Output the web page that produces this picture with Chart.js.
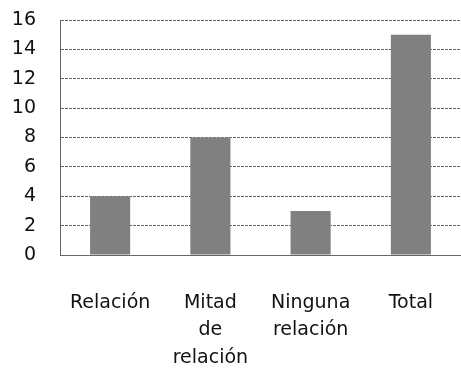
<!DOCTYPE html>
<html>
<head>
<meta charset="utf-8">
<script src="https://cdn.jsdelivr.net/npm/chart.js@4.4.1/dist/chart.umd.min.js"></script>
<style>
  html, body { margin: 0; padding: 0; background: #fff; }
  #wrap { width: 461px; height: 383px; }
</style>
</head>
<body>
<div id="wrap"><canvas id="c" width="461" height="383"></canvas></div>
<script>
const categories = [["Relación"], ["Mitad", "de", "relación"], ["Ninguna", "relación"], ["Total"]];
const values = [4, 8, 3, 15];
const yTicks = [0, 2, 4, 6, 8, 10, 12, 14, 16];

const FONT = "'DejaVu Sans', sans-serif";
const LINE = '#666666';

new Chart(document.getElementById('c'), {
  type: 'bar',
  data: {
    labels: categories,
    datasets: [{
      data: values,
      backgroundColor: '#808080',
      borderWidth: 0,
      barPercentage: 0.4,
      categoryPercentage: 1.0
    }]
  },
  options: {
    responsive: false,
    animation: false,
    devicePixelRatio: 1,
    layout: { padding: { top: 20, right: 0, left: 6, bottom: 0 } },
    plugins: { legend: { display: false }, tooltip: { enabled: false } },
    scales: {
      x: {
        afterFit: (axis) => {
          axis.paddingLeft = 0;
          axis.paddingRight = 0;
          axis.height = 128;
        },
        grid: { display: false, drawTicks: false },
        border: { display: true, color: LINE, width: 1, dash: [3, 1] },
        ticks: {
          color: '#111',
          font: { family: FONT, size: 19, lineHeight: 1.45 },
          padding: 34,
          maxRotation: 0,
          autoSkip: false
        }
      },
      y: {
        min: 0,
        max: 16,
        afterBuildTicks: (axis) => { axis.ticks = yTicks.map(v => ({ value: v })); },
        afterFit: (axis) => {
          axis.paddingTop = 0;
          axis.paddingBottom = 0;
          axis.width = 54;
        },
        grid: { color: LINE, lineWidth: 1, drawTicks: false },
        border: { display: true, color: LINE, width: 1, dash: [3, 1] },
        ticks: {
          color: '#111',
          font: { family: FONT, size: 19 },
          padding: 24,
          autoSkip: false
        }
      }
    }
  }
});
</script>
</body>
</html>
